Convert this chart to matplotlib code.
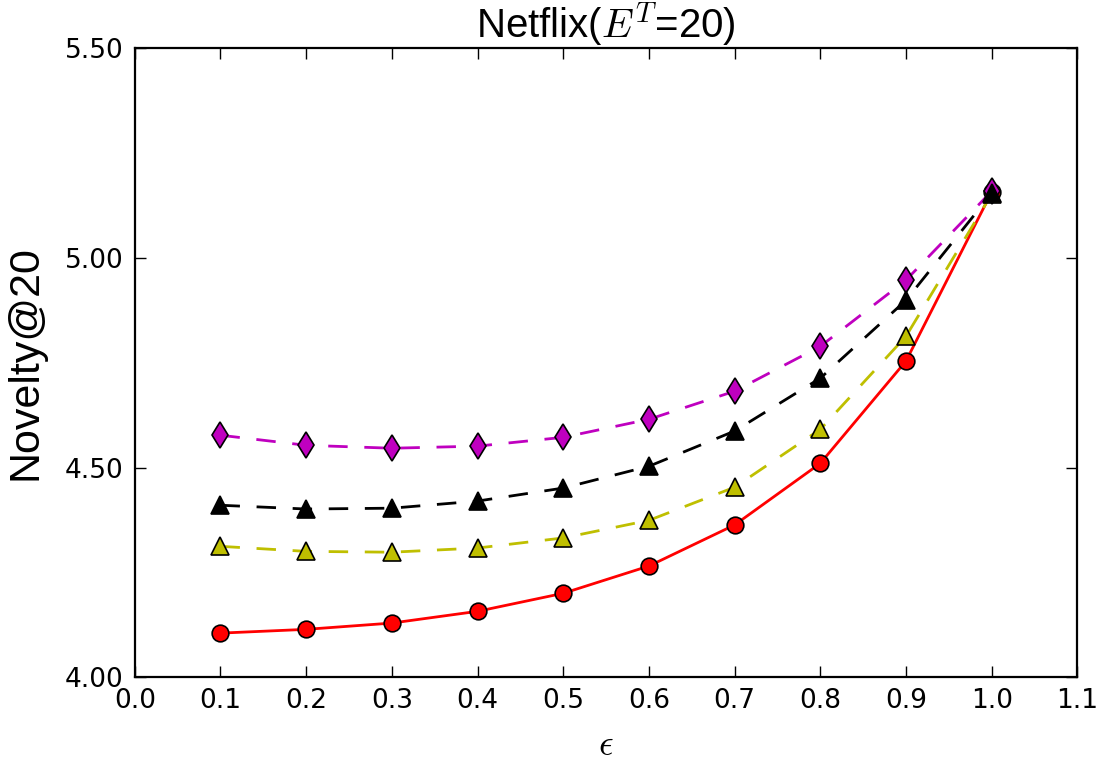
import numpy as np
import matplotlib
matplotlib.use("Agg")
import matplotlib.pyplot as plt
from matplotlib.ticker import FormatStrFormatter

plt.rcParams["mathtext.fontset"] = "cm"

eps = [0.1, 0.2, 0.3, 0.4, 0.5, 0.6, 0.7, 0.8, 0.9, 1.0]

# Novelty@20 per method
red_circle = [4.105, 4.114, 4.129, 4.157, 4.200, 4.265, 4.363, 4.510, 4.754, 5.157]
yel_tri = [4.312, 4.300, 4.298, 4.308, 4.332, 4.374, 4.453, 4.591, 4.813, 5.152]
mag_dia = [4.577, 4.553, 4.546, 4.551, 4.572, 4.615, 4.682, 4.789, 4.947, 5.159]
blk_tri = [4.410, 4.401, 4.403, 4.420, 4.451, 4.503, 4.587, 4.713, 4.899, 5.154]

xticks = [0.0, 0.1, 0.2, 0.3, 0.4, 0.5, 0.6, 0.7, 0.8, 0.9, 1.0, 1.1]
yticks = [4.00, 4.50, 5.00, 5.50]

fig = plt.figure(figsize=(11.05, 7.66), dpi=100, facecolor="white")
ax = fig.add_axes([0.122, 0.116, 0.853, 0.821])

dash = (7, 6)
ax.plot(eps, red_circle, "-", color="r", lw=2, marker="o", ms=12,
        mfc="r", mec="k", mew=1.2)
ax.plot(eps, yel_tri, "--", color="y", lw=2, dashes=dash, marker="^", ms=13,
        mfc="y", mec="k", mew=1.2)
ax.plot(eps, mag_dia, "--", color="m", lw=2, dashes=dash, marker="d", ms=13.5,
        mfc="m", mec="k", mew=1.2)
ax.plot(eps, blk_tri, "--", color="k", lw=2, dashes=dash, marker="^", ms=13,
        mfc="k", mec="k", mew=1.2)

ax.set_xlim(0.0, 1.1)
ax.set_ylim(4.0, 5.5)
ax.set_xticks(xticks)
ax.set_yticks(yticks)
ax.xaxis.set_major_formatter(FormatStrFormatter("%.1f"))
ax.yaxis.set_major_formatter(FormatStrFormatter("%.2f"))
ax.tick_params(direction="in", top=True, right=True, length=8, width=1,
               labelsize=19, pad=8)
for s in ax.spines.values():
    s.set_linewidth(1.6)

ax.set_title(r"Netflix($E^T$=20)", fontsize=29, family="Liberation Sans", pad=8)
ax.set_ylabel("Novelty@20", fontsize=31, family="Liberation Sans", labelpad=14)
ax.set_xlabel(r"$\epsilon$", fontsize=26, labelpad=10)

fig.savefig("out.png", dpi=100, facecolor="white")
